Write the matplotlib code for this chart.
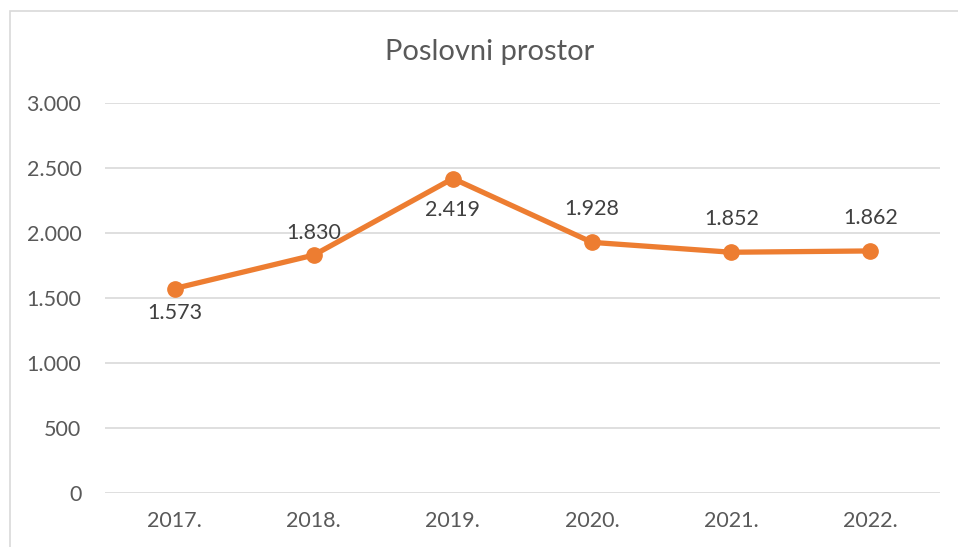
import matplotlib.pyplot as plt
from matplotlib.patches import Rectangle
from matplotlib.ticker import FuncFormatter

# podaci
godine = ['2017.', '2018.', '2019.', '2020.', '2021.', '2022.']
vrijednosti = [1573, 1830, 2419, 1928, 1852, 1862]

# pomak oznaka podataka (u tockama, + iznad, - ispod)
pomak_oznake = [-17.3, 15.8, -23, 24, 23.8, 23.8]

plt.rcParams['font.family'] = ['Lato', 'DejaVu Sans']

W, H = 958, 547
fig = plt.figure(figsize=(W / 100, H / 100), dpi=100)
ax = fig.add_axes([105 / W, 1 - 493 / H, (940 - 105) / W, (493 - 103) / H])

# okvir grafikona
fig.add_artist(Rectangle((10 / W, -0.1), 1.2, 1 - 11 / H + 0.1, transform=fig.transFigure,
                         fill=False, edgecolor='#D9D9D9', linewidth=1.2))

x = list(range(len(godine)))
ax.plot(x, vrijednosti, color='#ED7D31', linewidth=3.8, marker='o', markersize=11,
        clip_on=False, zorder=3)

for xi, v, off in zip(x, vrijednosti, pomak_oznake):
    txt = f'{v:,}'.replace(',', '.')
    ax.annotate(txt, (xi, v), xytext=(0, off), textcoords='offset points',
                ha='center', va='center', fontsize=15.5, color='#404040')

ax.set_xlim(-0.5, len(godine) - 0.5)
ax.set_ylim(0, 3000)
ax.set_yticks(range(0, 3001, 500))
ax.yaxis.set_major_formatter(FuncFormatter(lambda v, p: f'{int(v):,}'.replace(',', '.')))
ax.set_xticks(x)
ax.set_xticklabels(godine)
ax.grid(axis='y', color='#D9D9D9', linewidth=1.2)
ax.set_axisbelow(True)
for s in ax.spines.values():
    s.set_visible(False)
ax.tick_params(axis='both', length=0, labelsize=15.5, colors='#595959')
ax.tick_params(axis='y', pad=17)
ax.tick_params(axis='x', pad=13)

fig.text(490 / W, 1 - 52 / H, 'Poslovni prostor', ha='center', va='center',
         fontsize=21, color='#595959')

fig.savefig('out.png', dpi=100)
